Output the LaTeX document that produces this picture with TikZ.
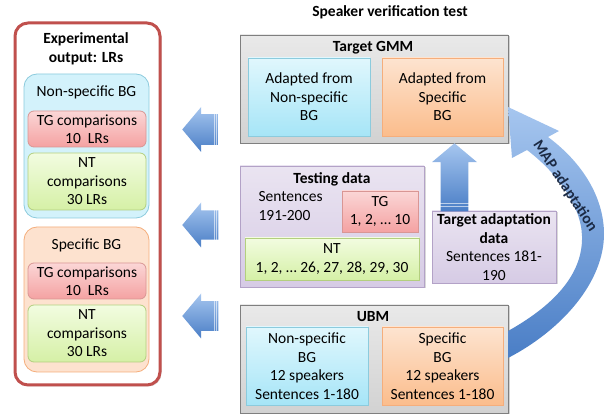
\documentclass[tikz,border=0pt]{standalone}
\usepackage{fontspec}
\setmainfont{Carlito}
\usetikzlibrary{shapes.arrows,shadows}

\definecolor{lrred}{HTML}{C0504D}
\definecolor{gmmtop}{HTML}{E9E9E9}
\definecolor{gmmbot}{HTML}{D2D2D2}
\definecolor{gmmline}{HTML}{7F7F7F}
\definecolor{nstop}{HTML}{E0F7FD}
\definecolor{nsbot}{HTML}{A6E5F7}
\definecolor{nsline}{HTML}{8CCBDD}
\definecolor{nsbig}{HTML}{D3F2FB}
\definecolor{sptop}{HTML}{FDE4D0}
\definecolor{spbot}{HTML}{FBBD8C}
\definecolor{spline}{HTML}{F5AE7C}
\definecolor{spbig}{HTML}{FDE2CF}
\definecolor{tgtop}{HTML}{FBD6D6}
\definecolor{tgbot}{HTML}{F4A2A2}
\definecolor{tgline}{HTML}{D99694}
\definecolor{nttop}{HTML}{F2FCE0}
\definecolor{ntbot}{HTML}{D5F0A6}
\definecolor{ntline}{HTML}{B3CF7E}
\definecolor{tdtop}{HTML}{EAE4F1}
\definecolor{tdbot}{HTML}{D6CBE5}
\definecolor{tdline}{HTML}{B3A2C7}
\definecolor{arrtop}{HTML}{A6C6EF}
\definecolor{arrbot}{HTML}{4A7EC6}
\definecolor{mapink}{HTML}{1B2A44}

\begin{document}
\begin{tikzpicture}[x=1pt,y=-1pt,font=\fontsize{15.5pt}{18.5pt}\selectfont]
  \tikzstyle{boxbase}=[rectangle,inner sep=0pt,align=center,line width=0.8pt]
  \tikzstyle{gmmbox}=[boxbase,draw=gmmline,top color=gmmtop,bottom color=gmmbot,
    drop shadow={shadow xshift=1.5pt,shadow yshift=-1.5pt,opacity=0.35}]
  \tikzstyle{nsbox}=[boxbase,draw=nsline,top color=nstop,bottom color=nsbot]
  \tikzstyle{spbox}=[boxbase,draw=spline,top color=sptop,bottom color=spbot]
  \tikzstyle{tgbox}=[boxbase,draw=tgline,top color=tgtop,bottom color=tgbot,rounded corners=6pt]
  \tikzstyle{ntbox}=[boxbase,draw=ntline,top color=nttop,bottom color=ntbot,rounded corners=6pt]
  \tikzstyle{tdbox}=[boxbase,draw=tdline,top color=tdtop,bottom color=tdbot,
    drop shadow={shadow xshift=1.5pt,shadow yshift=-1.5pt,opacity=0.3}]
  \tikzstyle{bigarrow}=[single arrow,draw=none,top color=arrtop,bottom color=arrbot,
    single arrow tip angle=100,minimum width=45pt]
  \tikzstyle{stripe}=[white,opacity=0.6,line width=0.5pt]
  \tikzstyle{heading}=[font=\fontsize{15.5pt}{18.5pt}\selectfont\bfseries]
  \useasboundingbox (0,0) rectangle (606,414);

  \node[heading] (title) at (390,12) {Speaker verification test};

  % results panel
  \node[rectangle,draw=lrred,line width=3pt,fill=white,rounded corners=13pt,
    minimum width=145pt,minimum height=362pt,
    drop shadow={shadow xshift=1.5pt,shadow yshift=-1.5pt,opacity=0.3}] (lrs) at (87.5,204) {};
  \node[heading,align=center] (lrstitle) at (86,49) {Experimental\\output: LRs};

  \node[boxbase,draw=nsline,fill=nsbig,rounded corners=13pt,minimum width=125pt,minimum height=144pt] (nsres) at (86.5,146) {};
  \node (nsrestitle) at (86.5,92) {Non-specific BG};
  \node[tgbox,minimum width=118pt,minimum height=36pt] (nstg) at (87,129) {TG comparisons\\10\ \ LRs};
  \node[ntbox,minimum width=118pt,minimum height=57pt] (nsnt) at (87,181.5) {NT\\comparisons\\30 LRs};

  \node[boxbase,draw=spline,fill=spbig,rounded corners=13pt,minimum width=125pt,minimum height=145pt] (spres) at (86.5,299.5) {};
  \node (sprestitle) at (86.5,245) {Specific BG};
  \node[tgbox,minimum width=118pt,minimum height=36pt] (sptg) at (87,281) {TG comparisons\\10\ \ LRs};
  \node[ntbox,minimum width=118pt,minimum height=57pt] (spnt) at (87,333.5) {NT\\comparisons\\30 LRs};

  % target models
  \node[gmmbox,minimum width=268pt,minimum height=108pt] (gmm) at (374,89) {};
  \node[heading] (gmmtitle) at (373,48) {Target GMM};
  \node[nsbox,minimum width=122pt,minimum height=78pt] (gmmns) at (309,97) {Adapted from\\Non-specific\\BG};
  \node[spbox,minimum width=121pt,minimum height=78pt] (gmmsp) at (442.5,97) {Adapted from\\Specific\\BG};

  % testing data
  \node[tdbox,minimum width=184pt,minimum height=121pt] (test) at (332,226.5) {};
  \node[heading] (testtitle) at (332,179) {Testing data};
  \node[anchor=west,align=left] (testsent) at (255,206) {Sentences\\191-200};
  \node[tgbox,rounded corners=0pt,minimum width=76pt,minimum height=41pt] (testtg) at (380,211.5) {TG\\1, 2, … 10};
  \node[ntbox,rounded corners=0pt,minimum width=174pt,minimum height=42pt] (testnt) at (332,259) {NT\\1, 2, … 26, 27, 28, 29, 30};

  \node[tdbox,minimum width=124pt,minimum height=72pt] (adapt) at (494,247)
    {\textbf{Target adaptation}\\\textbf{data}\\Sentences 181-\\190};

  % background models
  \node[gmmbox,minimum width=268pt,minimum height=108pt] (ubm) at (374,359) {};
  \node[heading] (ubmtitle) at (373,317) {UBM};
  \node[nsbox,minimum width=122pt,minimum height=78pt] (ubmns) at (307,366) {Non-specific\\BG\\12 speakers\\Sentences 1-180};
  \node[spbox,minimum width=121pt,minimum height=78pt] (ubmsp) at (442.5,366) {Specific\\BG\\12 speakers\\Sentences 1-180};

  % block arrows
  \node[bigarrow,shape border rotate=180,inner xsep=0pt,inner ysep=15pt,minimum height=36pt,anchor=tip] (outgmm) at (182,129.5) {};
  \node[bigarrow,shape border rotate=180,inner xsep=0pt,inner ysep=13pt,minimum height=36pt,anchor=tip] (outtest) at (182,225) {};
  \node[bigarrow,shape border rotate=180,inner xsep=0pt,inner ysep=13.5pt,minimum height=36pt,anchor=tip] (outubm) at (182,316) {};
  \node[bigarrow,shape border rotate=90,inner xsep=11.5pt,inner ysep=0pt,minimum height=68pt,anchor=tip] (upadapt) at (454.5,143) {};
  \foreach \a in {outgmm,outtest,outubm}{
    \foreach \s in {2,4}
      \draw[stripe] ([xshift=-\s pt]\a.before tail) -- ([xshift=-\s pt]\a.after tail);
  }
  \foreach \s in {5,8}
    \draw[stripe] ([yshift=\s pt]upadapt.before tail) -- ([yshift=\s pt]upadapt.after tail);

  % MAP adaptation band
  \shade[top color=arrtop,bottom color=arrbot]
    (508,331) .. controls (560,302) and (583,270) .. (582,236)
    .. controls (581,205) and (556,172) .. (527,150)
    -- (512,158) -- (508,107) -- (559,131) -- (548,137)
    .. controls (583,163) and (604,198) .. (604,234)
    .. controls (604,282) and (562,330) .. (508,358) -- cycle;
  \node[heading,text=mapink,rotate=-57] (maplabel) at (565,186) {MAP adaptation};
\end{tikzpicture}
\end{document}
